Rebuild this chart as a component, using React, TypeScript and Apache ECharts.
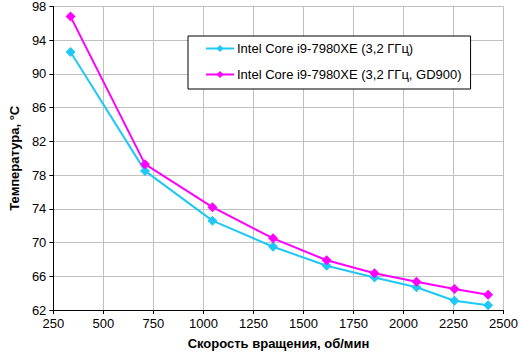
import React, { useEffect, useRef } from "react";
import * as echarts from "echarts";

const speeds = [336, 708, 1045, 1348, 1616, 1855, 2065, 2255, 2423];
const seriesA = [92.6, 78.5, 72.6, 69.5, 67.25, 65.85, 64.7, 63.1, 62.55];
const seriesB = [96.8, 79.3, 74.2, 70.5, 67.9, 66.35, 65.35, 64.5, 63.8];
const nameA = "Intel Core i9-7980XE (3,2 ГГц)";
const nameB = "Intel Core i9-7980XE (3,2 ГГц, GD900)";

export default function App() {
  const ref = useRef<HTMLDivElement>(null);
  useEffect(() => {
    if (!ref.current) return;
    const chart = echarts.init(ref.current, null, { renderer: "svg" });
    const font = "Liberation Sans, Arial, sans-serif";
    chart.setOption({
      animation: false,
      backgroundColor: "#ffffff",
      textStyle: { fontFamily: font },
      grid: { left: 46, right: 13, top: 5, bottom: 41 },
      legend: {
        orient: "vertical",
        left: 188,
        top: 36,
        padding: [6, 9, 8, 17],
        itemGap: 13,
        itemWidth: 28,
        itemHeight: 9,
        backgroundColor: "#ffffff",
        borderColor: "#000000",
        borderWidth: 1,
        borderRadius: 0,
        textStyle: { fontFamily: font, fontSize: 13, color: "#000", padding: [0, 0, 0, -2] },
        data: [nameA, nameB],
      },
      xAxis: {
        type: "value",
        min: 250,
        max: 2500,
        interval: 250,
        name: "Скорость вращения, об/мин",
        nameLocation: "middle",
        nameGap: 27,
        nameTextStyle: { fontFamily: font, fontSize: 13, fontWeight: "bold", color: "#000" },
        axisLine: { show: true, lineStyle: { color: "#000", width: 1 } },
        axisTick: { show: true, length: 4, lineStyle: { color: "#000" } },
        axisLabel: { fontFamily: font, fontSize: 13, color: "#000", margin: 7, formatter: (v: number) => String(v) },
        splitLine: { show: true, lineStyle: { color: "#c0c0c0", width: 1 } },
      },
      yAxis: {
        type: "value",
        min: 62,
        max: 98,
        interval: 4,
        name: "Температура, °С",
        nameLocation: "middle",
        nameGap: 32,
        nameTextStyle: { fontFamily: font, fontSize: 13, fontWeight: "bold", color: "#000" },
        axisLine: { show: true, lineStyle: { color: "#000", width: 1 } },
        axisTick: { show: true, length: 4, lineStyle: { color: "#000" } },
        axisLabel: { fontFamily: font, fontSize: 13, color: "#000", margin: 7, formatter: (v: number) => String(v) },
        splitLine: { show: true, lineStyle: { color: "#c0c0c0", width: 1 } },
      },
      series: [
        {
          name: nameA,
          type: "line",
          data: speeds.map((s, i) => [s, seriesA[i]]),
          symbol: "diamond",
          symbolSize: 10,
          color: "#1fc8f5",
          lineStyle: { width: 2, color: "#1fc8f5" },
          itemStyle: { color: "#1fc8f5" },
          z: 2,
        },
        {
          name: nameB,
          type: "line",
          data: speeds.map((s, i) => [s, seriesB[i]]),
          symbol: "diamond",
          symbolSize: 10,
          color: "#ff00ff",
          lineStyle: { width: 2, color: "#ff00ff" },
          itemStyle: { color: "#ff00ff" },
          z: 3,
        },
      ],
    });
    return () => chart.dispose();
  }, []);
  return <div ref={ref} style={{ width: 521, height: 355, position: "absolute", left: 0, top: 0 }} />;
}
